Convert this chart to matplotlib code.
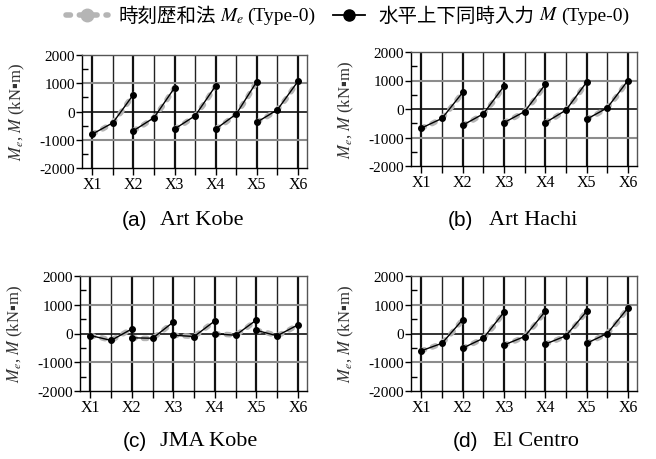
import matplotlib
matplotlib.use("Agg")
import matplotlib.pyplot as plt
from matplotlib.lines import Line2D
from matplotlib.ticker import FixedLocator
import numpy as np

plt.rcParams['font.family'] = ['Liberation Serif', 'Noto Sans CJK JP', 'DejaVu Sans']
plt.rcParams['mathtext.fontset'] = 'stix'

xlabels = ['X1', 'X2', 'X3', 'X4', 'X5', 'X6']
captions = [('(a)', 'Art Kobe'), ('(b)', 'Art Hachi'), ('(c)', 'JMA Kobe'), ('(d)', 'El Centro')]
legend_me = ('時刻歴和法', '$M_e$', '(Type-0)')
legend_m = ('水平上下同時入力', '$M$', '(Type-0)')

# M (horizontal + vertical simultaneous input): per segment [start, mid, end]
M_a = [[-800, -400, 600], [-680, -220, 840], [-620, -150, 910], [-620, -90, 1060], [-380, 60, 1070]]
M_b = [[-670, -330, 580], [-570, -170, 800], [-480, -90, 860], [-480, -40, 940], [-360, 40, 1000]]
M_c = [[-70, -240, 160], [-150, -165, 400], [-60, -105, 440], [-10, -60, 470], [110, -80, 300]]
M_d = [[-600, -340, 480], [-510, -165, 740], [-400, -105, 770], [-370, -80, 770], [-340, 0, 890]]

# Me (time-history sum method): per segment values at 0, 1/4, 1/2, 3/4, 1
Me_a = [[-800, -620, -400, 70, 600], [-680, -470, -220, 270, 840], [-620, -410, -150, 330, 910],
        [-620, -380, -90, 440, 1060], [-380, -180, 60, 520, 1070]]
Me_b = [[-670, -520, -330, 100, 580], [-570, -390, -170, 270, 800], [-480, -300, -90, 340, 860],
        [-480, -280, -40, 400, 940], [-360, -180, 40, 480, 1000]]
Me_c = [[-70, -140, -240, -40, 160], [-150, -170, -170, 100, 400], [-60, -80, -105, 160, 440],
        [-10, -30, -60, 180, 470], [110, 30, -80, 90, 300]]
Me_d = [[-600, -480, -340, 40, 480], [-510, -350, -165, 250, 740], [-400, -270, -105, 300, 770],
        [-370, -240, -80, 310, 770], [-340, -180, 0, 400, 890]]

M_all = [M_a, M_b, M_c, M_d]
Me_all = [Me_a, Me_b, Me_c, Me_d]

fig = plt.figure(figsize=(6.56, 4.6), dpi=100)
W, H = 656.0, 460.0
boxes = [(82, 56, 307, 169), (411, 53, 637, 167), (80, 277, 307, 392), (411, 277, 637, 392)]
# (right edge of tag, left edge of name, y centre) in pixels
cap_pos = [(147, 160, 221), (473, 489, 221), (147, 160, 442), (478, 493, 442)]

gray = '#b5b5b5'
me_dash = (0, (0.6, 1.5))

for k in range(4):
    l, t, r, b = boxes[k]
    ax = fig.add_axes([l / W, 1 - b / H, (r - l) / W, (b - t) / H])
    ax.set_xlim(-0.25, 5.22)
    ax.set_ylim(-2000, 2000)

    for xv in np.arange(0, 5.01, 1.0):
        ax.axvline(xv, color='#111111', lw=1.6, zorder=1)
    for xv in np.arange(0.5, 5.0, 1.0):
        ax.axvline(xv, color='#222222', lw=1.0, zorder=1)
    ax.axhline(1000, color='#8c8c8c', lw=1.5, zorder=1)
    ax.axhline(-1000, color='#8c8c8c', lw=1.5, zorder=1)
    ax.axhline(0, color='#111111', lw=1.2, zorder=1)

    for i in range(5):
        xs_me = [i + f for f in (0, 0.25, 0.5, 0.75, 1.0)]
        ax.plot(xs_me, Me_all[k][i], color=gray, lw=4.0, ls=me_dash,
                dash_capstyle='round', zorder=2)
        xs_m = [i, i + 0.5, i + 1]
        ax.plot(xs_m, M_all[k][i], color='black', lw=1.0, marker='o', ms=4.0, zorder=3)

    ax.xaxis.set_major_locator(FixedLocator(range(6)))
    ax.xaxis.set_minor_locator(FixedLocator([0.5, 1.5, 2.5, 3.5, 4.5]))
    ax.set_xticklabels(xlabels, fontsize=11.5)
    ax.tick_params(axis='x', which='both', direction='out', length=5, width=1, pad=1)
    ax.set_yticks([-2000, -1000, 0, 1000, 2000])
    ax.set_yticklabels(['-2000', '-1000', '0', '1000', '2000'], fontsize=11)
    ax.yaxis.set_minor_locator(FixedLocator([-1500, -500, 500, 1500]))
    ax.tick_params(axis='y', which='major', direction='out', length=4, width=1, pad=1)
    ax.tick_params(axis='y', which='minor', direction='in', length=4, width=1)

    for s in ['left', 'bottom']:
        ax.spines[s].set_color('black')
        ax.spines[s].set_linewidth(1.0)
    for s in ['top', 'right']:
        ax.spines[s].set_color('#555555')
        ax.spines[s].set_linewidth(1.0)

    ax.set_ylabel('$M_e$, $M$ (kN\u25aam)', fontsize=12, color='#333333')
    ax.yaxis.set_label_coords((l - 55 - l) / (r - l) if False else -55.0 / (r - l), 0.5)

    xr, xn, cy = cap_pos[k]
    lab, name = captions[k]
    fig.text(xr / W, 1 - cy / H, lab, ha='right', va='center', fontsize=15,
             family='Liberation Sans')
    fig.text(xn / W, 1 - cy / H, name, ha='left', va='center', fontsize=16,
             family='Liberation Serif')

# manual legend
fig.canvas.draw()
renderer = fig.canvas.get_renderer()
ly = 1 - 16 / H
lfs = 14


def chain(parts, x0, fams):
    x = x0
    for txt, fam, gap in zip(parts, fams, (4, 3, 0)):
        tt = fig.text(x / W, ly, txt, ha='left', va='center', fontsize=lfs, family=fam)
        bb = tt.get_window_extent(renderer)
        x = bb.x1 + gap
    return x


fig.add_artist(Line2D([66 / W, 108 / W], [ly, ly], color=gray, lw=4.0, ls=(0, (0.8, 1.6)),
                      dash_capstyle='round', transform=fig.transFigure))
fig.add_artist(Line2D([87 / W], [ly], color=gray, marker='o', ms=9, ls='none',
                      transform=fig.transFigure))
xend = chain(legend_me, 118, ['Noto Sans CJK JP', 'Liberation Serif', 'Liberation Serif'])

hx0 = xend + 18
fig.add_artist(Line2D([hx0 / W, (hx0 + 32) / W], [ly, ly], color='black', lw=1.3,
                      transform=fig.transFigure))
fig.add_artist(Line2D([(hx0 + 16) / W], [ly], color='black', marker='o', ms=8, ls='none',
                      transform=fig.transFigure))
chain(legend_m, hx0 + 46, ['Noto Sans CJK JP', 'Liberation Serif', 'Liberation Serif'])

fig.savefig('out.png', dpi=100)
